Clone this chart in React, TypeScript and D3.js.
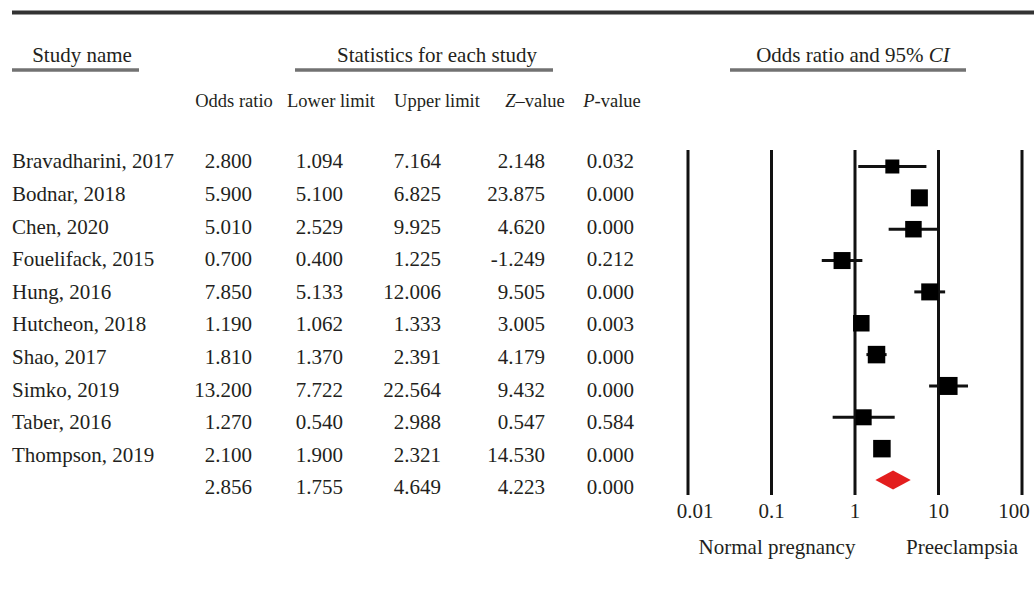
import React from "react";
import * as d3 from "d3";

const studies = [
  "Bravadharini, 2017",
  "Bodnar, 2018",
  "Chen, 2020",
  "Fouelifack, 2015",
  "Hung, 2016",
  "Hutcheon, 2018",
  "Shao, 2017",
  "Simko, 2019",
  "Taber, 2016",
  "Thompson, 2019",
];
const oddsRatio = [2.8, 5.9, 5.01, 0.7, 7.85, 1.19, 1.81, 13.2, 1.27, 2.1];
const lowerLimit = [1.094, 5.1, 2.529, 0.4, 5.133, 1.062, 1.37, 7.722, 0.54, 1.9];
const upperLimit = [7.164, 6.825, 9.925, 1.225, 12.006, 1.333, 2.391, 22.564, 2.988, 2.321];
const zValue = [2.148, 23.875, 4.62, -1.249, 9.505, 3.005, 4.179, 9.432, 0.547, 14.53];
const pValue = [0.032, 0.0, 0.0, 0.212, 0.0, 0.003, 0.0, 0.0, 0.584, 0.0];
const weights = [14, 17, 16.5, 17, 17, 16.5, 17.5, 18, 16, 17.5];
const summaryValues = [2.856, 1.755, 4.649, 4.223, 0.0];
const axisTicks = [0.01, 0.1, 1, 10, 100];
const tickLabels = ["0.01", "0.1", "1", "10", "100"];

const FONT = "'Liberation Serif', 'Times New Roman', serif";
const TXT = "#231f20";

export default function App() {
  const W = 1034;
  const H = 592;
  const x = d3.scaleLog().domain([0.01, 100]).range([688, 1022]);
  const textY = d3.scaleLinear().domain([0, 10]).range([161, 487]);
  const plotY = d3.scaleLinear().domain([0, 10]).range([166.5, 480]);
  const fmt = (v: number) => v.toFixed(3);

  const colRight = [252, 343, 441, 545, 634];
  const rows = studies.map((s, i) => [
    oddsRatio[i],
    lowerLimit[i],
    upperLimit[i],
    zValue[i],
    pValue[i],
  ]);

  const sOR = summaryValues[0];
  const sLo = summaryValues[1];
  const sHi = summaryValues[2];
  const dy = plotY(10);
  const diamond = d3.line()([
    [x(sLo), dy],
    [x(sOR), dy - 9.5],
    [x(sHi), dy],
    [x(sOR), dy + 9.5],
  ]) + "Z";

  return (
    <svg
      width={W}
      height={H}
      style={{ position: "absolute", left: 0, top: 0, background: "#fff" }}
      fontFamily={FONT}
    >
      <rect width={W} height={H} fill="#fff" />
      {/* top rule */}
      <line x1={12} x2={W} y1={12.5} y2={12.5} stroke="#333" strokeWidth={4} />

      {/* group headers */}
      <g fontSize={21} fill={TXT}>
        <text x={82} y={55} dy="0.35em" textAnchor="middle">Study name</text>
        <text x={437} y={55} dy="0.35em" textAnchor="middle">Statistics for each study</text>
        <text x={853} y={55} dy="0.35em" textAnchor="middle">
          Odds ratio and 95% <tspan fontStyle="italic">CI</tspan>
        </text>
      </g>
      <g stroke="#727272" strokeWidth={3.5}>
        <line x1={12} x2={139} y1={70} y2={70} />
        <line x1={295} x2={553} y1={70} y2={70} />
        <line x1={730} x2={966} y1={70} y2={70} />
      </g>

      {/* column headers */}
      <g fontSize={18.5} fill={TXT}>
        <text x={234} y={101} dy="0.35em" textAnchor="middle">Odds ratio</text>
        <text x={331} y={101} dy="0.35em" textAnchor="middle">Lower limit</text>
        <text x={437} y={101} dy="0.35em" textAnchor="middle">Upper limit</text>
        <text x={535} y={101} dy="0.35em" textAnchor="middle">
          <tspan fontStyle="italic">Z</tspan>–value
        </text>
        <text x={612} y={101} dy="0.35em" textAnchor="middle">
          <tspan fontStyle="italic">P</tspan>-value
        </text>
      </g>

      {/* table rows */}
      <g fontSize={21} fill={TXT}>
        {studies.map((s, i) => (
          <g key={s}>
            <text x={12} y={textY(i)} dy="0.35em">{s}</text>
            {rows[i].map((v, j) => (
              <text key={j} x={colRight[j]} y={textY(i)} dy="0.35em" textAnchor="end">
                {fmt(v)}
              </text>
            ))}
          </g>
        ))}
        {summaryValues.map((v, j) => (
          <text key={"s" + j} x={colRight[j]} y={textY(10)} dy="0.35em" textAnchor="end">
            {fmt(v)}
          </text>
        ))}
      </g>

      {/* forest plot vertical lines */}
      <g stroke="#111" strokeWidth={3}>
        {axisTicks.map((t) => (
          <line key={t} x1={x(t)} x2={x(t)} y1={150} y2={495} />
        ))}
      </g>

      {/* CI lines and squares */}
      <g>
        {studies.map((s, i) => {
          const cy = plotY(i);
          const w = weights[i];
          return (
            <g key={s}>
              <line
                x1={x(lowerLimit[i])}
                x2={x(upperLimit[i])}
                y1={cy}
                y2={cy}
                stroke="#111"
                strokeWidth={3}
              />
              <rect x={x(oddsRatio[i]) - w / 2} y={cy - w / 2} width={w} height={w} fill="#000" />
            </g>
          );
        })}
        <path d={diamond} fill="#e31e1e" />
      </g>

      {/* axis labels */}
      <g fontSize={21} fill={TXT}>
        {axisTicks.map((t, i) => {
          const shift = i === 0 ? 7 : i === axisTicks.length - 1 ? -8 : 0;
          return (
            <text key={t} x={x(t) + shift} y={518} textAnchor="middle">
              {tickLabels[i]}
            </text>
          );
        })}
        <text x={777} y={554} textAnchor="middle">Normal pregnancy</text>
        <text x={962} y={554} textAnchor="middle">Preeclampsia</text>
      </g>
    </svg>
  );
}
